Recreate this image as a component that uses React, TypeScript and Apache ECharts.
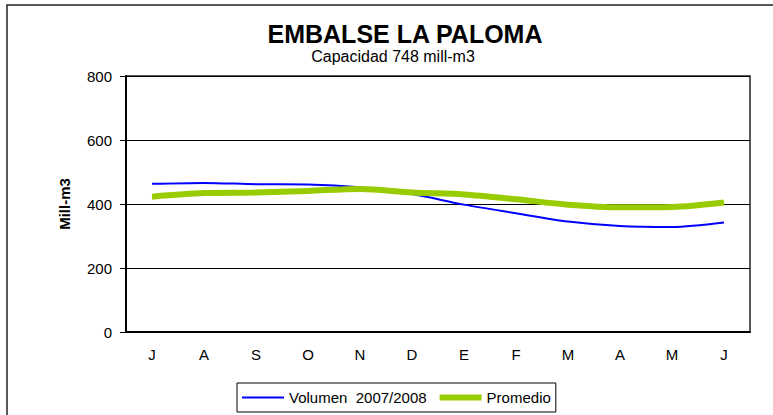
import { useEffect, useRef } from 'react';
import * as echarts from 'echarts';

// meses julio -> junio
const months = ['J', 'A', 'S', 'O', 'N', 'D', 'E', 'F', 'M', 'A', 'M', 'J'];
const volumen = [463, 466, 462, 461, 452, 431, 398, 371, 345, 331, 328, 342];
const promedio = [423, 434, 436, 441, 447, 436, 430, 415, 398, 390, 391, 405];

const FONT = "Arial, 'Liberation Sans', sans-serif";

export default function App() {
  const chartRef = useRef<HTMLDivElement>(null);

  useEffect(() => {
    if (!chartRef.current) return;
    document.body.style.margin = '0';

    const chart = echarts.init(chartRef.current, null, { renderer: 'svg' });

    const option: echarts.EChartsOption = {
      animation: false,
      backgroundColor: '#fff',
      textStyle: { fontFamily: FONT },
      graphic: [
        {
          type: 'rect',
          shape: { x: 7, y: 5, width: 800, height: 500 },
          style: { fill: 'none', stroke: '#222', lineWidth: 1.5 },
          silent: true,
        },
        {
          type: 'text',
          x: 405,
          y: 34,
          style: {
            text: 'EMBALSE LA PALOMA',
            fontFamily: FONT,
            fontSize: 25,
            fontWeight: 'bold',
            fill: '#000',
            align: 'center',
            verticalAlign: 'middle',
          },
        },
        {
          type: 'text',
          x: 393,
          y: 56,
          style: {
            text: 'Capacidad 748 mill-m3',
            fontFamily: FONT,
            fontSize: 16,
            fill: '#000',
            align: 'center',
            verticalAlign: 'middle',
          },
        },
      ],
      grid: {
        left: 126,
        right: 23,
        top: 76,
        bottom: 83,
        show: true,
        borderColor: '#222',
        borderWidth: 1.5,
      },
      legend: {
        left: 237,
        top: 383,
        padding: [7, 5, 7, 4],
        itemGap: 10,
        itemWidth: 42,
        itemHeight: 14,
        borderColor: '#000',
        borderWidth: 1,
        itemStyle: { opacity: 0 },
        textStyle: { fontFamily: FONT, fontSize: 15, color: '#000' },
        data: [
          { name: 'Volumen  2007/2008', lineStyle: { width: 2 } } as any,
          { name: 'Promedio', lineStyle: { width: 6 } } as any,
        ],
      },
      xAxis: {
        type: 'category',
        data: months,
        boundaryGap: true,
        axisLine: { lineStyle: { color: '#000', width: 2 } },
        axisTick: { inside: true, length: 5, lineStyle: { color: '#000', width: 1.5 } },
        axisLabel: { color: '#000', fontSize: 15, margin: 15, fontFamily: FONT },
      },
      yAxis: {
        type: 'value',
        min: 0,
        max: 800,
        interval: 200,
        name: 'Mill-m3',
        nameLocation: 'middle',
        nameGap: 54,
        nameTextStyle: { fontFamily: FONT, fontSize: 15, fontWeight: 'bold', color: '#000' },
        axisLine: { show: true, lineStyle: { color: '#000', width: 2 } },
        axisTick: { show: true, length: 6, lineStyle: { color: '#000' } },
        axisLabel: { color: '#000', fontSize: 15, margin: 14, fontFamily: FONT },
        splitLine: { lineStyle: { color: '#000', width: 1 } },
      },
      series: [
        {
          name: 'Volumen  2007/2008',
          type: 'line',
          data: volumen,
          smooth: 0.3,
          symbol: 'none',
          lineStyle: { color: '#0000FF', width: 2 },
          itemStyle: { color: '#0000FF' },
          z: 3,
        },
        {
          name: 'Promedio',
          type: 'line',
          data: promedio,
          smooth: 0.3,
          symbol: 'none',
          lineStyle: { color: '#99CC00', width: 6 },
          itemStyle: { color: '#99CC00' },
          z: 4,
        },
      ],
    };

    chart.setOption(option);

    return () => {
      chart.dispose();
    };
  }, []);

  return <div ref={chartRef} style={{ width: 773, height: 415 }} />;
}
